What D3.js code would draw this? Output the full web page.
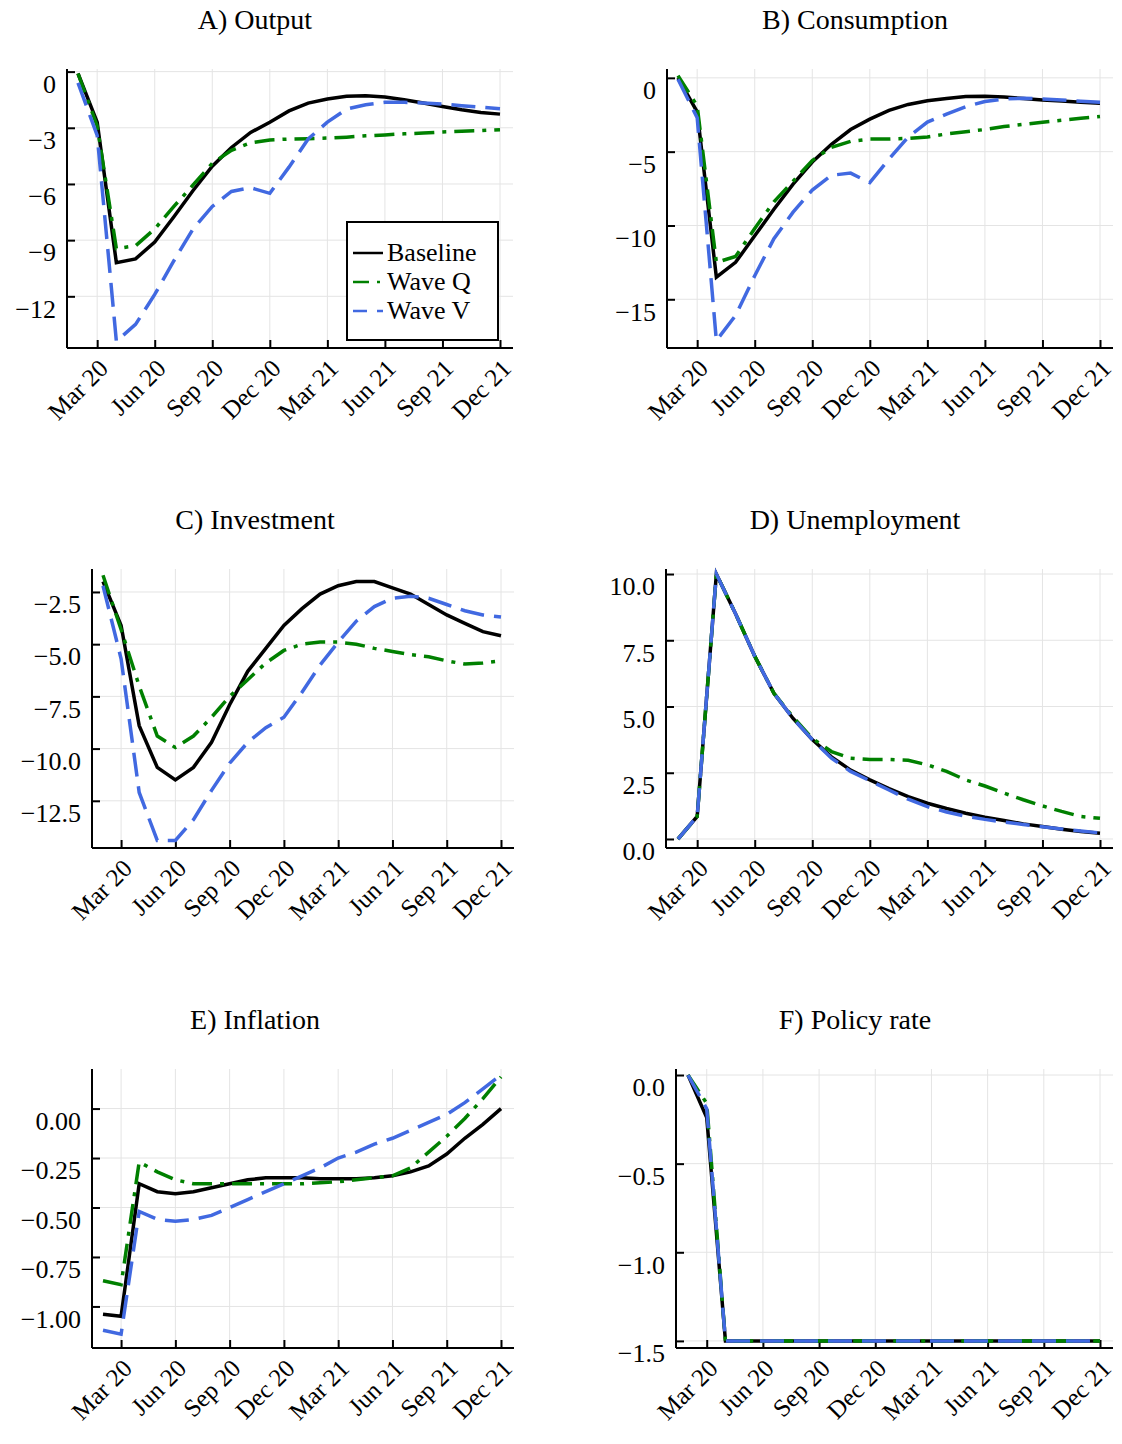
<!DOCTYPE html>
<html>
<head>
<meta charset="utf-8">
<script src="https://cdn.jsdelivr.net/npm/d3@7"></script>
<style>
body { margin: 0; background: #fff; }
text { font-family: "Liberation Serif", "DejaVu Serif", serif; }
</style>
</head>
<body>
<script>
// Monthly observations, Feb 20 .. Dec 21
var months = ["Feb 20","Mar 20","Apr 20","May 20","Jun 20","Jul 20","Aug 20","Sep 20","Oct 20","Nov 20","Dec 20",
	"Jan 21","Feb 21","Mar 21","Apr 21","May 21","Jun 21","Jul 21","Aug 21","Sep 21","Oct 21","Nov 21","Dec 21"];
var tickLabels = ["Mar 20","Jun 20","Sep 20","Dec 20","Mar 21","Jun 21","Sep 21","Dec 21"];
var seriesNames = ["Baseline", "Wave Q", "Wave V"];

var outputBase = [-0.1,-2.7,-10.2,-10.0,-9.1,-7.75,-6.35,-5.05,-4.05,-3.25,-2.7,-2.1,-1.68,-1.46,-1.32,-1.29,-1.36,-1.5,-1.68,-1.86,-2.04,-2.18,-2.27];
var outputQ    = [-0.1,-2.9,-9.45,-9.3,-8.4,-7.2,-6.05,-4.9,-4.2,-3.8,-3.65,-3.6,-3.58,-3.55,-3.5,-3.43,-3.38,-3.32,-3.28,-3.22,-3.18,-3.15,-3.1];
var outputV    = [-0.6,-3.4,-14.4,-13.5,-11.9,-10.1,-8.4,-7.2,-6.4,-6.2,-6.5,-5.1,-3.6,-2.7,-2.0,-1.77,-1.64,-1.64,-1.68,-1.73,-1.82,-1.9,-1.98];

var consBase = [0,-2.3,-13.5,-12.5,-10.7,-8.9,-7.2,-5.7,-4.5,-3.5,-2.8,-2.2,-1.8,-1.55,-1.4,-1.27,-1.24,-1.3,-1.4,-1.5,-1.56,-1.65,-1.72];
var consQ    = [0.15,-1.9,-12.5,-12.1,-10.2,-8.4,-7.0,-5.6,-4.7,-4.3,-4.15,-4.15,-4.1,-4.0,-3.8,-3.65,-3.5,-3.3,-3.15,-3.0,-2.87,-2.74,-2.62];
var consV    = [-0.1,-2.7,-17.8,-16.1,-13.4,-10.9,-9.1,-7.6,-6.6,-6.45,-7.1,-5.5,-4.0,-3.0,-2.45,-1.95,-1.6,-1.43,-1.38,-1.43,-1.5,-1.58,-1.65];

var invBase = [-2.0,-4.1,-8.9,-10.9,-11.5,-10.9,-9.7,-7.9,-6.3,-5.2,-4.1,-3.3,-2.6,-2.2,-2.0,-2.0,-2.3,-2.6,-3.1,-3.6,-4.0,-4.4,-4.6];
var invQ    = [-1.7,-4.3,-7.0,-9.4,-9.95,-9.4,-8.5,-7.5,-6.7,-5.9,-5.3,-5.0,-4.9,-4.9,-5.0,-5.2,-5.35,-5.5,-5.6,-5.8,-5.95,-5.9,-5.8];
var invV    = [-2.2,-5.7,-12.1,-14.4,-14.4,-13.4,-12.0,-10.7,-9.7,-9.0,-8.5,-7.3,-6.0,-4.9,-3.9,-3.2,-2.8,-2.7,-2.8,-3.1,-3.4,-3.6,-3.7];

var unempBase = [0,0.85,10,8.5,6.9,5.5,4.55,3.75,3.1,2.6,2.23,1.9,1.6,1.35,1.15,0.97,0.82,0.7,0.57,0.47,0.37,0.28,0.22];
var unempQ    = [0,0.85,10,8.5,6.9,5.5,4.6,3.8,3.3,3.05,3.0,3.0,2.97,2.8,2.55,2.23,2.0,1.73,1.48,1.25,1.04,0.85,0.78];
var unempV    = [0,0.85,10,8.5,6.9,5.5,4.55,3.75,3.05,2.55,2.2,1.85,1.5,1.22,1.02,0.86,0.74,0.64,0.55,0.46,0.38,0.3,0.23];

var inflBase = [-1.04,-1.05,-0.38,-0.42,-0.43,-0.42,-0.40,-0.38,-0.36,-0.35,-0.35,-0.35,-0.355,-0.355,-0.355,-0.35,-0.34,-0.32,-0.29,-0.23,-0.15,-0.08,0.0];
var inflQ    = [-0.87,-0.89,-0.27,-0.32,-0.36,-0.38,-0.38,-0.38,-0.38,-0.38,-0.38,-0.38,-0.375,-0.37,-0.36,-0.35,-0.34,-0.30,-0.22,-0.14,-0.05,0.05,0.16];
var inflV    = [-1.12,-1.14,-0.52,-0.56,-0.57,-0.56,-0.54,-0.50,-0.46,-0.42,-0.38,-0.34,-0.30,-0.25,-0.22,-0.18,-0.15,-0.11,-0.07,-0.03,0.03,0.10,0.17];

var rateBase = [0,-0.24,-1.5,-1.5,-1.5,-1.5,-1.5,-1.5,-1.5,-1.5,-1.5,-1.5,-1.5,-1.5,-1.5,-1.5,-1.5,-1.5,-1.5,-1.5,-1.5,-1.5,-1.5];
var rateQ    = [0,-0.16,-1.5,-1.5,-1.5,-1.5,-1.5,-1.5,-1.5,-1.5,-1.5,-1.5,-1.5,-1.5,-1.5,-1.5,-1.5,-1.5,-1.5,-1.5,-1.5,-1.5,-1.5];
var rateV    = [0,-0.19,-1.5,-1.5,-1.5,-1.5,-1.5,-1.5,-1.5,-1.5,-1.5,-1.5,-1.5,-1.5,-1.5,-1.5,-1.5,-1.5,-1.5,-1.5,-1.5,-1.5,-1.5];

var panels = [
	{ title: "A) Output", series: [outputBase, outputQ, outputV], yDomain: [-14.76, 0.14], yTicks: [0,-3,-6,-9,-12], fmt: "d",
	  left: 67, x0: 78, x1: 500, top: 69, bottom: 348, titleX: 255, legend: true },
	{ title: "B) Consumption", series: [consBase, consQ, consV], yDomain: [-18.3, 0.6], yTicks: [0,-5,-10,-15], fmt: "d",
	  left: 667, x0: 678, x1: 1100, top: 69, bottom: 348, titleX: 855 },
	{ title: "C) Investment", series: [invBase, invQ, invV], yDomain: [-14.76, -1.4], yTicks: [-2.5,-5,-7.5,-10,-12.5], fmt: ".1f",
	  left: 92, x0: 103, x1: 501, top: 569, bottom: 848, titleX: 255 },
	{ title: "D) Unemployment", series: [unempBase, unempQ, unempV], yDomain: [-0.34, 10.19], yTicks: [0,2.5,5,7.5,10], fmt: ".1f",
	  left: 666, x0: 678, x1: 1100, top: 569, bottom: 848, titleX: 855 },
	{ title: "E) Inflation", series: [inflBase, inflQ, inflV], yDomain: [-1.21, 0.2], yTicks: [0,-0.25,-0.5,-0.75,-1], fmt: ".2f",
	  left: 92, x0: 103, x1: 501, top: 1069, bottom: 1348, titleX: 255 },
	{ title: "F) Policy rate", series: [rateBase, rateQ, rateV], yDomain: [-1.54, 0.034], yTicks: [0,-0.5,-1,-1.5], fmt: ".1f",
	  left: 676, x0: 688, x1: 1100, top: 1069, bottom: 1348, titleX: 855 }
];

var styles = [
	{ color: "#000000", dash: null },
	{ color: "#008000", dash: "20,8,4,8" },
	{ color: "#4169e1", dash: "24,10" }
];

var svg = d3.select("body").append("svg")
	.attr("width", 1122)
	.attr("height", 1444);

function minus(s) { return s.replace("-", "\u2212"); }

panels.forEach(function(p) {
	var right = p.x1 + 13;
	var x = d3.scaleLinear().domain([0, months.length - 1]).range([p.x0, p.x1]);
	var y = d3.scaleLinear().domain(p.yDomain).range([p.bottom, p.top]);
	var tickIdx = tickLabels.map(function(t) { return months.indexOf(t); });
	var g = svg.append("g");

	// grid
	g.selectAll(".vg").data(tickIdx).enter().append("line")
		.attr("x1", function(d) { return x(d); }).attr("x2", function(d) { return x(d); })
		.attr("y1", p.top).attr("y2", p.bottom)
		.attr("stroke", "#e4e4e4").attr("stroke-width", 1);
	g.selectAll(".hg").data(p.yTicks).enter().append("line")
		.attr("x1", p.left).attr("x2", right)
		.attr("y1", function(d) { return y(d); }).attr("y2", function(d) { return y(d); })
		.attr("stroke", "#e4e4e4").attr("stroke-width", 1);

	// axes
	var f = d3.format(p.fmt);
	var yAxis = d3.axisLeft(y).tickValues(p.yTicks).tickSizeInner(-8).tickSizeOuter(0)
		.tickPadding(11).tickFormat(function(d) { return minus(f(d)); });
	var ya = g.append("g").attr("transform", "translate(" + p.left + ",0)").call(yAxis);
	ya.select(".domain").attr("d", "M0," + p.top + "V" + p.bottom).attr("stroke-width", 2);
	ya.selectAll(".tick line").attr("stroke-width", 2);
	ya.selectAll("text").attr("font-size", 26).attr("font-family", "Liberation Serif").attr("dy", "0.8em");

	var xAxis = d3.axisBottom(x).tickValues(tickIdx).tickSizeInner(-8).tickSizeOuter(0)
		.tickFormat(function(d, i) { return tickLabels[i]; });
	var xa = g.append("g").attr("transform", "translate(0," + p.bottom + ")").call(xAxis);
	xa.select(".domain").attr("d", "M" + p.left + ",0H" + right).attr("stroke-width", 2);
	xa.selectAll(".tick line").attr("stroke-width", 2);
	xa.selectAll("text")
		.attr("font-size", 25).attr("font-family", "Liberation Serif")
		.attr("text-anchor", "end").attr("dy", null).attr("y", 0)
		.attr("transform", "translate(12,22) rotate(-45)");

	// lines
	var line = d3.line().x(function(d, i) { return x(i); }).y(function(d) { return y(d); });
	p.series.forEach(function(s, k) {
		g.append("path").datum(s)
			.attr("d", line)
			.attr("fill", "none")
			.attr("stroke", styles[k].color)
			.attr("stroke-width", 3.5)
			.attr("stroke-dasharray", styles[k].dash);
	});

	// title
	g.append("text")
		.attr("x", p.titleX).attr("y", p.top - 40)
		.attr("text-anchor", "middle").attr("font-size", 28)
		.text(p.title);

	if (p.legend) {
		var lg = g.append("g").attr("transform", "translate(347,222)");
		lg.append("rect").attr("width", 151).attr("height", 118)
			.attr("fill", "#fff").attr("stroke", "#000").attr("stroke-width", 2);
		seriesNames.forEach(function(n, k) {
			var yy = 31 + k * 29;
			lg.append("line").attr("x1", 6).attr("x2", 36).attr("y1", yy).attr("y2", yy)
				.attr("stroke", styles[k].color).attr("stroke-width", 2.5)
				.attr("stroke-dasharray", k === 1 ? "16,8,3,8" : (k === 2 ? "14,10" : null));
			lg.append("text").attr("x", 40).attr("y", yy + 8).attr("font-size", 26).text(n);
		});
	}
});
</script>
</body>
</html>
